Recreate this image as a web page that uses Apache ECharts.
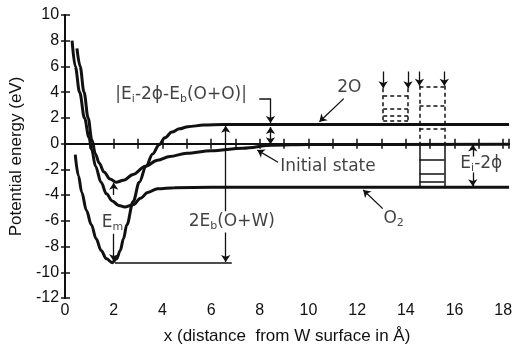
<!DOCTYPE html>
<html><head><meta charset="utf-8">
<script src="https://cdn.jsdelivr.net/npm/echarts@6/dist/echarts.min.js"></script>
<style>html,body{margin:0;padding:0;background:#fff}#c{width:515px;height:350px}</style>
</head><body><div id="c"></div>
<script>
// ---- axis settings ----
const xMin = 0, xMax = 18.24, xStep = 1;
const yMin = -12, yMax = 10, yStep = 2;
const xName = 'x (distance  from W surface in Å)';
const yName = 'Potential energy (eV)';

// ---- potential curves [x (Å), energy (eV)] ----
const curve2O = [[0.42,-0.86],[0.55,-2.5],[0.69,-3.8],[0.88,-5.2],[1.08,-6.3],[1.28,-7.4],[1.48,-8.3],[1.7,-8.95],[1.94,-9.25],[2.12,-8.95],[2.27,-8.3],[2.4,-7.4],[2.54,-6.3],[2.8,-4.5],[3.05,-3.0],[3.33,-1.75],[3.6,-0.8],[3.86,-0.1],[4.1,0.45],[4.39,0.9],[4.7,1.15],[5.05,1.32],[5.7,1.44],[6.5,1.48],[18.24,1.48]];
const curveInitial = [[0.49,7.4],[0.62,6],[0.78,4],[0.95,2],[1.1,0.3],[1.25,-0.8],[1.4,-1.5],[1.6,-2.2],[1.85,-2.75],[2.1,-3.0],[2.4,-2.85],[2.8,-2.4],[3.3,-1.75],[3.8,-1.3],[4.3,-1.0],[5,-0.75],[6,-0.55],[7.3,-0.35],[8.5,-0.12],[10,-0.06],[18.24,-0.05]];
const curveO2 = [[0.29,8],[0.42,6],[0.6,4],[0.8,2],[0.98,0.5],[1.1,-0.5],[1.25,-1.75],[1.48,-3.0],[1.7,-3.9],[1.94,-4.45],[2.2,-4.8],[2.45,-4.92],[2.8,-4.75],[3.1,-4.25],[3.4,-3.8],[3.8,-3.5],[4.5,-3.42],[6,-3.4],[18.24,-3.4]];
const zeroLine = [[0,0],[18.24,0]];

// ---- annotation segments ----
const arrowEnd = [
  [[11.45,3.5],[10.45,1.7]],
  [[8.75,-1.45],[7.9,-0.5]],
  [[13.05,-5.05],[12.25,-3.6]],
  [[2.0,-4.0],[2.0,-3.05]],
  [[2.0,-7.0],[2.0,-9.15]],
  [[6.6,-5.25],[6.6,1.4]],
  [[6.6,-6.9],[6.6,-9.2]],
  [[16.75,-1.0],[16.75,-0.06]],
  [[16.75,-2.25],[16.75,-3.32]],
  [[8.44,3.5],[8.44,1.6]],
  [[13.07,5.6],[13.07,4.3]],
  [[14.09,5.6],[14.09,4.3]],
  [[14.56,5.6],[14.56,4.5]],
  [[15.58,5.6],[15.58,4.5]]
];
const arrowBoth = [
  [[8.44,1.3],[8.44,-0.04]]
];
const solidSegs = [
  [[2.05,-9.27],[6.85,-9.27]],
  [[7.98,3.5],[8.44,3.5]],
  [[14.56,0],[14.56,-3.4]],
  [[15.58,0],[15.58,-3.4]],
  [[14.56,-1.24],[15.58,-1.24]],
  [[14.56,-2.37],[15.58,-2.37]],
  [[14.56,-2.96],[15.58,-2.96]]
];
const dashedSegs = [
  [[13.07,4.3],[13.07,1.48]],
  [[14.09,4.3],[14.09,1.48]],
  [[13.07,3.7],[14.09,3.7]],
  [[13.07,2.68],[14.09,2.68]],
  [[13.07,2.18],[14.09,2.18]],
  [[13.07,1.8],[14.09,1.8]],
  [[14.56,4.5],[14.56,0]],
  [[15.58,4.5],[15.58,0]],
  [[14.56,4.4],[15.58,4.4]],
  [[14.56,2.93],[15.58,2.93]],
  [[14.56,1.16],[15.58,1.16]]
];

// ---- text labels [x, y, rich formatter] ----
const textLabels = [
  [4.77, 3.8, '{n||E}{s|i}{n|-2ϕ-E}{s|b}{n|(O+O)|}'],
  [11.68, 4.35, '{n|2O}'],
  [10.8, -1.75, '{n|Initial state}'],
  [13.5, -5.8, '{n|O}{s|2}'],
  [1.95, -6.15, '{n|E}{s|m}'],
  [6.85, -6.05, '{n|2E}{s|b}{n|(O+W)}'],
  [17.1, -1.55, '{n|E}{s|i}{n|-2ϕ}']
];

const INK = '#111';
const FONT = 'DejaVu Sans';

const segData = arr => arr.map(c => ({coords: c}));

const chart = echarts.init(document.getElementById('c'), null, {renderer: 'canvas'});
const option = {
  backgroundColor: '#fff',
  animation: false,
  grid: {left: 56, right: 0, top: 15, bottom: 45},
  xAxis: [{
    type: 'value', min: xMin, max: xMax, interval: xStep, position: 'bottom',
    name: xName, nameLocation: 'middle', nameGap: 30,
    nameTextStyle: {fontFamily: 'Liberation Sans', fontSize: 17, color: INK},
    axisLine: {show: true, lineStyle: {color: INK, width: 2}},
    axisTick: {show: true, inside: true, length: 5, lineStyle: {color: INK, width: 1.5}},
    axisLabel: {show: true, margin: 5, fontFamily: 'Liberation Sans', fontSize: 16, color: INK,
      formatter: v => (Math.abs(v - Math.round(v)) < 1e-6 && Math.round(v) % 2 === 0) ? String(Math.round(v)) : ''},
    splitLine: {show: false}
  }, {
    type: 'value', min: xMin, max: xMax, interval: xStep, position: 'top',
    axisLine: {show: true, lineStyle: {color: INK, width: 2}},
    axisTick: {show: true, inside: true, length: 5, lineStyle: {color: INK, width: 1.5}},
    axisLabel: {show: false}, splitLine: {show: false}
  }],
  yAxis: [{
    type: 'value', min: yMin, max: yMax, interval: yStep, position: 'left',
    name: yName, nameLocation: 'middle', nameGap: 30,
    nameTextStyle: {fontFamily: 'Liberation Sans', fontSize: 17, color: INK},
    axisLine: {show: true, lineStyle: {color: INK, width: 2}},
    axisTick: {show: true, inside: true, length: 5, lineStyle: {color: INK, width: 1.5}},
    axisLabel: {show: true, margin: 6, fontFamily: 'Liberation Sans', fontSize: 16, color: INK},
    splitLine: {show: false}
  }, {
    type: 'value', min: yMin, max: yMax, interval: yStep, position: 'right',
    axisLine: {show: true, lineStyle: {color: INK, width: 2}},
    axisTick: {show: true, inside: true, length: 4, lineStyle: {color: INK, width: 1.5}},
    axisLabel: {show: false}, splitLine: {show: false}
  }],
  series: [
    {type: 'line', data: zeroLine, showSymbol: false, lineStyle: {color: INK, width: 1.5, type: [8, 5]}, z: 2},
    {type: 'line', data: curve2O, showSymbol: false, smooth: 0.35, smoothMonotone: 'x', lineStyle: {color: INK, width: 3}, z: 3},
    {type: 'line', data: curveInitial, showSymbol: false, smooth: 0.35, smoothMonotone: 'x', lineStyle: {color: INK, width: 3}, z: 3},
    {type: 'line', data: curveO2, showSymbol: false, smooth: 0.35, smoothMonotone: 'x', lineStyle: {color: INK, width: 3}, z: 3},
    {type: 'lines', coordinateSystem: 'cartesian2d', data: segData(arrowEnd), symbol: ['none', 'arrow'], symbolSize: 7,
      lineStyle: {color: INK, width: 1.3, opacity: 1}, z: 4},
    {type: 'lines', coordinateSystem: 'cartesian2d', data: segData(arrowBoth), symbol: ['arrow', 'arrow'], symbolSize: 7,
      lineStyle: {color: INK, width: 1.3, opacity: 1}, z: 4},
    {type: 'lines', coordinateSystem: 'cartesian2d', data: segData(solidSegs), symbol: 'none',
      lineStyle: {color: INK, width: 1.5, opacity: 1}, z: 4},
    {type: 'lines', coordinateSystem: 'cartesian2d', data: segData(dashedSegs), symbol: 'none',
      lineStyle: {color: INK, width: 1.5, type: [4, 3], opacity: 1}, z: 4},
    {type: 'scatter', data: textLabels.map(t => ({value: [t[0], t[1]], label: {formatter: t[2]}})),
      symbolSize: 0, z: 5,
      label: {show: true, position: 'inside', color: INK,
        rich: {
          n: {fontFamily: FONT, fontSize: 17, color: INK},
          s: {fontFamily: FONT, fontSize: 11, color: INK, padding: [9, 0, 0, 0]}
        }}}
  ]
};
chart.setOption(option);
</script></body></html>
